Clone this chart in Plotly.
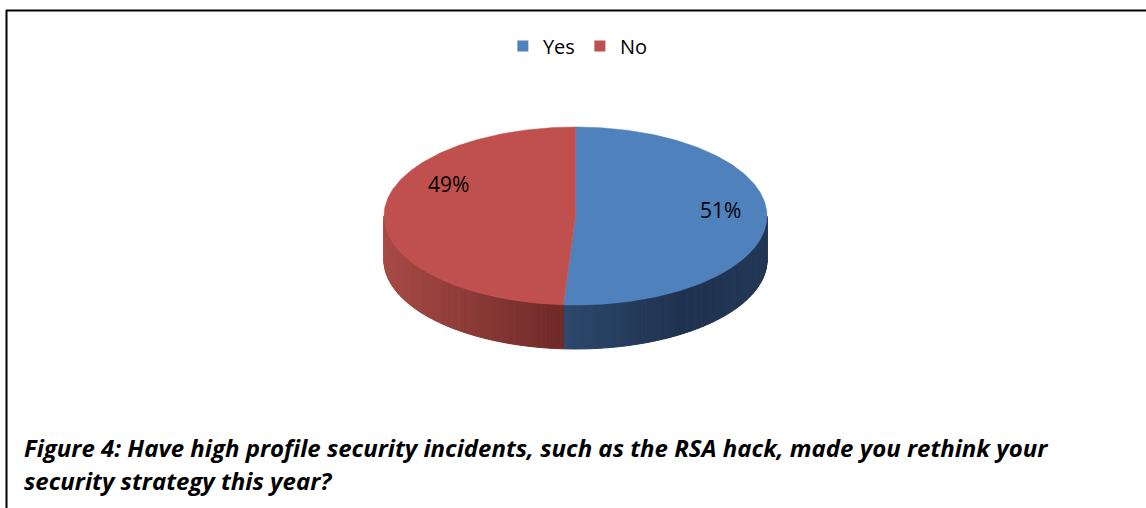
import numpy as np
import plotly.graph_objects as go

# ---- data ----
labels = ["Yes", "No"]
values = [51, 49]
caption_lines = [
    "Figure 4: Have high profile security incidents, such as the RSA hack, made you rethink your",
    "security strategy this year?",
]

# ---- style ----
top_colors = ["#4F81BD", "#C0504D"]
# side shading stops: (sin(theta), rgb)
side_stops = [
    [(-0.10, (46, 74, 110)), (0.55, (31, 50, 80)), (1.0, (35, 55, 86))],
    [(-1.0, (168, 74, 70)), (-0.10, (112, 43, 41))],
]
label_offsets = [(0, -8), (18, -30)]
FONT = "Open Sans"

W, H = 1146, 508
cx, cy, rx, ry, depth = 575.5, 216.0, 191.5, 89.0, 44.0

fig = go.Figure()


def pts(a0, a1, n, dy=0.0):
    t = np.radians(np.linspace(a0, a1, n))
    return cx + rx * np.sin(t), cy - ry * np.cos(t) + dy


def shade(i, s):
    st = side_stops[i]
    xs = [p[0] for p in st]
    rgb = [np.interp(s, xs, [p[1][k] for p in st]) for k in range(3)]
    return "rgb(%d,%d,%d)" % tuple(int(round(c)) for c in rgb)


total = float(sum(values))
ends = np.cumsum(values) / total * 360.0
starts = np.concatenate([[0.0], ends[:-1]])

# side walls (visible front half: 90..270 deg clockwise from top)
for i in range(len(values)):
    lo, hi = max(starts[i], 90.0), min(ends[i], 270.0)
    if lo >= hi:
        continue
    n = max(int((hi - lo) / 1.0), 1)
    edges = np.linspace(lo, hi, n + 1)
    for a, b in zip(edges[:-1], edges[1:]):
        tx, ty = pts(a, b, 4)
        bx, by = pts(b, a, 4, depth)
        xs = np.concatenate([tx, bx, tx[:1]])
        ys = np.concatenate([ty, by, ty[:1]])
        col = shade(i, np.sin(np.radians((a + b) / 2)))
        fig.add_trace(go.Scatter(x=xs, y=ys, mode="lines", fill="toself",
                                 fillcolor=col, line=dict(color=col, width=1),
                                 hoverinfo="skip", showlegend=False))

# top faces
for i in range(len(values)):
    ax, ay = pts(starts[i], ends[i], 240)
    xs = np.concatenate([[cx], ax, [cx]])
    ys = np.concatenate([[cy], ay, [cy]])
    fig.add_trace(go.Scatter(x=xs, y=ys, mode="lines", fill="toself",
                             fillcolor=top_colors[i],
                             line=dict(color=top_colors[i], width=0.5),
                             hoverinfo="skip", showlegend=False))

# data labels
for i in range(len(values)):
    mid = np.radians((starts[i] + ends[i]) / 2)
    lx = cx + 0.76 * rx * np.sin(mid) + label_offsets[i][0]
    ly = cy - 0.76 * ry * np.cos(mid) + label_offsets[i][1]
    fig.add_annotation(x=lx, y=ly, text=f"{values[i]}%", showarrow=False,
                       font=dict(family=FONT, size=21, color="black"))

# legend entries
for i in range(len(values)):
    fig.add_trace(go.Scatter(x=[None], y=[None], mode="markers", name=labels[i],
                             marker=dict(symbol="square", size=11, color=top_colors[i])))

# caption
for k, line in enumerate(caption_lines):
    fig.add_annotation(x=22, y=447 + 33 * k, xanchor="left", yanchor="middle",
                       text=f"<b><i>{line}</i></b>", showarrow=False,
                       font=dict(family=FONT, size=24, color="black"))

# frame lines
fig.add_shape(type="line", x0=6, x1=W, y0=10.5, y1=10.5,
              line=dict(color="black", width=2))
fig.add_shape(type="line", x0=6.5, x1=6.5, y0=10, y1=H,
              line=dict(color="black", width=2))

fig.update_layout(
    width=W, height=H,
    margin=dict(l=0, r=0, t=0, b=0),
    paper_bgcolor="white", plot_bgcolor="white",
    xaxis=dict(range=[0, W], visible=False, fixedrange=True),
    yaxis=dict(range=[H, 0], visible=False, fixedrange=True),
    legend=dict(orientation="h", x=0.506, xanchor="center", y=1 - 46 / H,
                yanchor="middle", font=dict(family=FONT, size=20, color="black"),
                itemwidth=30, entrywidth=32, entrywidthmode="pixels",
                bgcolor="rgba(0,0,0,0)"),
    showlegend=True,
)

fig.write_html("out.html", config={"displayModeBar": False},
               post_script="document.body.style.margin='0';document.body.style.overflow='hidden';")
